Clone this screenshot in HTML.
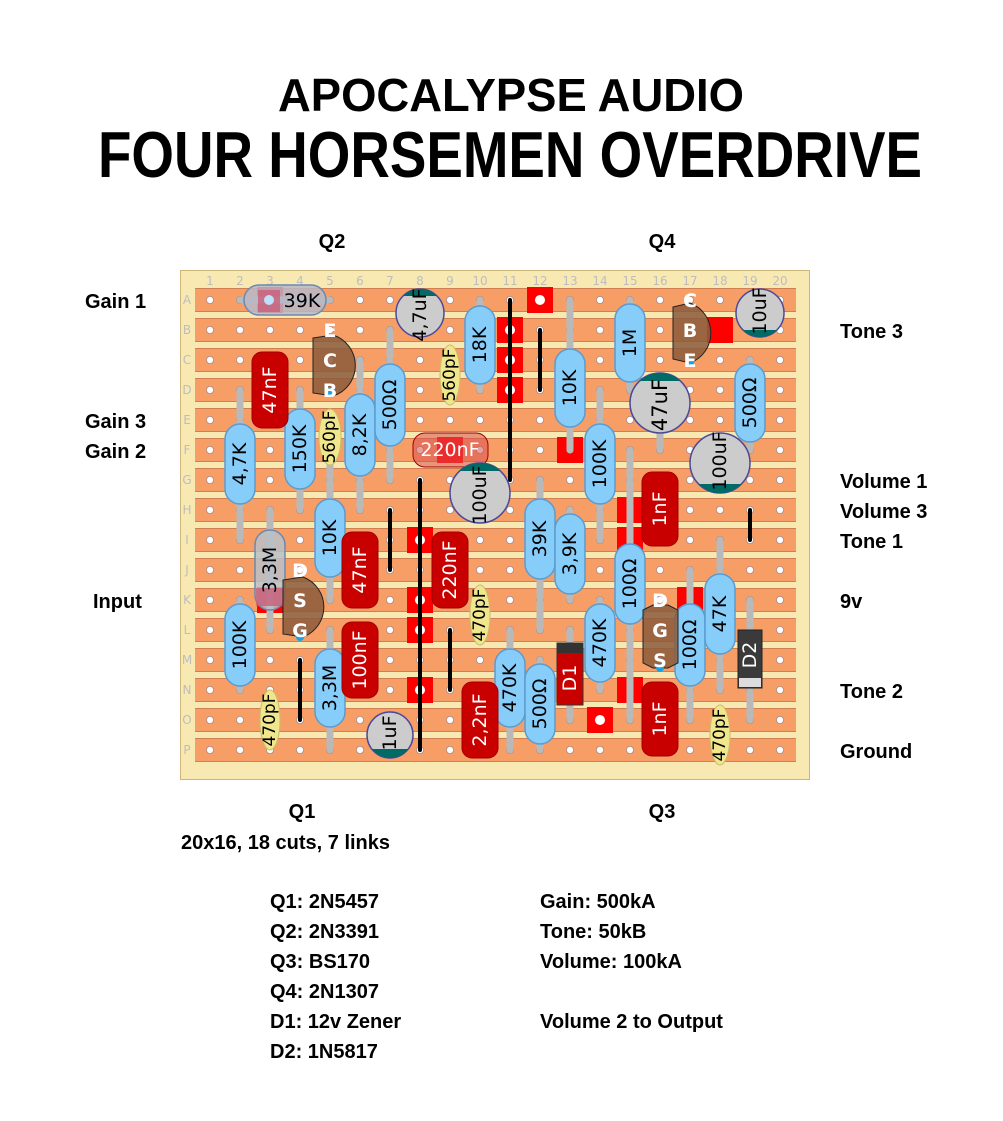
<!DOCTYPE html>
<html><head><meta charset="utf-8"><style>
html,body{margin:0;padding:0;background:#fff}
svg{display:block}
.lb{font-family:"Liberation Sans",sans-serif;font-weight:bold;font-size:20px;fill:#000}
.cl{font-family:"DejaVu Sans","Liberation Sans",sans-serif;font-size:19px;fill:#000;text-anchor:middle;dominant-baseline:central}
.cw{font-family:"DejaVu Sans","Liberation Sans",sans-serif;font-size:19px;fill:#fff;text-anchor:middle;dominant-baseline:central}
.tl{font-family:"DejaVu Sans",sans-serif;font-weight:bold;font-size:19px;fill:#fff;text-anchor:middle;dominant-baseline:central}
.gr{font-family:"DejaVu Sans",sans-serif;font-size:12px;fill:#bdbdbd;text-anchor:middle;dominant-baseline:central}
.ld{stroke:#b9b9b9;stroke-width:7;stroke-linecap:round}
.lk{stroke:#000;stroke-width:4;stroke-linecap:round}
.r{fill:#87cdf9;stroke:#5b9bd0;stroke-width:1.5}
.c{fill:#c80000;stroke:#a00000;stroke-width:1}
.y{fill:#f0e68c;stroke:#c8bd6e;stroke-width:1}
.e{fill:#cccccc;stroke:#4a4a9a;stroke-width:1.5}
.cut{fill:#ff0000}
</style></head><body>
<svg width="1003" height="1121" viewBox="0 0 1003 1121" xmlns="http://www.w3.org/2000/svg">
<defs>
<pattern id="strip" patternUnits="userSpaceOnUse" x="0" y="285" width="1003" height="30">
<rect x="0" y="3.5" width="1003" height="23" fill="#f79e66" stroke="#cf7f52" stroke-width="1"/>
</pattern>
<pattern id="holes" patternUnits="userSpaceOnUse" x="195" y="285" width="30" height="30">
<circle cx="15" cy="15" r="3.6" fill="#fff" stroke="#a88" stroke-width="0.8"/>
</pattern>
<clipPath id="c1"><circle cx="420" cy="313" r="24"/></clipPath>
<clipPath id="c2"><circle cx="480" cy="493" r="30"/></clipPath>
<clipPath id="c3"><circle cx="660" cy="403" r="30"/></clipPath>
<clipPath id="c4"><circle cx="760" cy="313" r="24"/></clipPath>
<clipPath id="c5"><circle cx="720" cy="463" r="30"/></clipPath>
<clipPath id="c6"><circle cx="390" cy="735" r="23"/></clipPath>
</defs>

<!-- titles -->
<text x="511" y="111" text-anchor="middle" font-family="Liberation Sans,sans-serif" font-weight="bold" font-size="46" textLength="466" lengthAdjust="spacingAndGlyphs">APOCALYPSE AUDIO</text>
<text x="510" y="177" text-anchor="middle" font-family="Liberation Sans,sans-serif" font-weight="bold" font-size="65" textLength="824" lengthAdjust="spacingAndGlyphs">FOUR HORSEMEN OVERDRIVE</text>

<text class="lb" x="332" y="248" text-anchor="middle">Q2</text>
<text class="lb" x="662" y="248" text-anchor="middle">Q4</text>
<text class="lb" x="302" y="818" text-anchor="middle">Q1</text>
<text class="lb" x="662" y="818" text-anchor="middle">Q3</text>

<text class="lb" x="85" y="308">Gain 1</text>
<text class="lb" x="85" y="428">Gain 3</text>
<text class="lb" x="85" y="458">Gain 2</text>
<text class="lb" x="93" y="608">Input</text>
<text class="lb" x="840" y="338">Tone 3</text>
<text class="lb" x="840" y="488">Volume 1</text>
<text class="lb" x="840" y="518">Volume 3</text>
<text class="lb" x="840" y="548">Tone 1</text>
<text class="lb" x="840" y="608">9v</text>
<text class="lb" x="840" y="698">Tone 2</text>
<text class="lb" x="840" y="758">Ground</text>

<text class="lb" x="181" y="849">20x16, 18 cuts, 7 links</text>
<text class="lb" x="270" y="908">Q1: 2N5457</text>
<text class="lb" x="270" y="938">Q2: 2N3391</text>
<text class="lb" x="270" y="968">Q3: BS170</text>
<text class="lb" x="270" y="998">Q4: 2N1307</text>
<text class="lb" x="270" y="1028">D1: 12v Zener</text>
<text class="lb" x="270" y="1058">D2: 1N5817</text>
<text class="lb" x="540" y="908">Gain: 500kA</text>
<text class="lb" x="540" y="938">Tone: 50kB</text>
<text class="lb" x="540" y="968">Volume: 100kA</text>
<text class="lb" x="540" y="1028">Volume 2 to Output</text>

<!-- board -->
<rect x="180.5" y="270.5" width="629" height="509" fill="#f8e9b3" stroke="#cdb77a" stroke-width="1"/>
<rect x="195" y="285" width="601" height="480" fill="url(#strip)"/>
<rect x="195" y="285" width="601" height="480" fill="url(#holes)"/>

<g class="gr">
<text x="210" y="281">1</text><text x="240" y="281">2</text><text x="270" y="281">3</text><text x="300" y="281">4</text><text x="330" y="281">5</text><text x="360" y="281">6</text><text x="390" y="281">7</text><text x="420" y="281">8</text><text x="450" y="281">9</text><text x="480" y="281">10</text><text x="510" y="281">11</text><text x="540" y="281">12</text><text x="570" y="281">13</text><text x="600" y="281">14</text><text x="630" y="281">15</text><text x="660" y="281">16</text><text x="690" y="281">17</text><text x="720" y="281">18</text><text x="750" y="281">19</text><text x="780" y="281">20</text>
<text x="187" y="300">A</text><text x="187" y="330">B</text><text x="187" y="360">C</text><text x="187" y="390">D</text><text x="187" y="420">E</text><text x="187" y="450">F</text><text x="187" y="480">G</text><text x="187" y="510">H</text><text x="187" y="540">I</text><text x="187" y="570">J</text><text x="187" y="600">K</text><text x="187" y="630">L</text><text x="187" y="660">M</text><text x="187" y="690">N</text><text x="187" y="720">O</text><text x="187" y="750">P</text>
</g>

<!-- cuts -->
<g class="cut">
<rect x="527" y="287" width="26" height="26"/>
<rect x="497" y="317" width="26" height="26"/><rect x="497" y="347" width="26" height="26"/><rect x="497" y="377" width="26" height="26"/>
<rect x="707" y="317" width="26" height="26"/>
<rect x="557" y="437" width="26" height="26"/>
<rect x="437" y="437" width="26" height="26"/>
<rect x="617" y="497" width="26" height="26"/><rect x="617" y="527" width="26" height="26"/>
<rect x="617" y="677" width="26" height="26"/>
<rect x="677" y="587" width="26" height="26"/>
<rect x="407" y="527" width="26" height="26"/><rect x="407" y="587" width="26" height="26"/><rect x="407" y="617" width="26" height="26"/><rect x="407" y="677" width="26" height="26"/>
<rect x="257" y="587" width="26" height="26"/>
<rect x="257" y="287" width="26" height="26"/>
<rect x="587" y="707" width="26" height="26"/>
</g>
<g fill="#fff">
<circle cx="540" cy="300" r="5"/><circle cx="510" cy="330" r="5"/><circle cx="510" cy="360" r="5"/><circle cx="510" cy="390" r="5"/>
<circle cx="420" cy="540" r="5"/><circle cx="420" cy="600" r="5"/><circle cx="420" cy="630" r="5"/><circle cx="420" cy="690" r="5"/>
<circle cx="600" cy="720" r="5"/>
</g>

<!-- links -->
<g class="lk">
<line x1="510" y1="300" x2="510" y2="480"/>
<line x1="540" y1="330" x2="540" y2="390"/>
<line x1="420" y1="480" x2="420" y2="750"/>
<line x1="390" y1="510" x2="390" y2="570"/>
<line x1="300" y1="660" x2="300" y2="720"/>
<line x1="450" y1="630" x2="450" y2="690"/>
<line x1="750" y1="510" x2="750" y2="540"/>
</g>

<!-- leads -->
<g class="ld">
<line x1="240" y1="300" x2="330" y2="300"/>
<line x1="480" y1="300" x2="480" y2="390"/>
<line x1="240" y1="390" x2="240" y2="540"/>
<line x1="300" y1="390" x2="300" y2="510"/>
<line x1="360" y1="360" x2="360" y2="510"/>
<line x1="390" y1="330" x2="390" y2="480"/>
<line x1="330" y1="420" x2="330" y2="480"/>
<line x1="570" y1="300" x2="570" y2="450"/>
<line x1="630" y1="300" x2="630" y2="390"/>
<line x1="600" y1="390" x2="600" y2="540"/>
<line x1="750" y1="360" x2="750" y2="450"/>
<line x1="660" y1="390" x2="660" y2="450"/>
<line x1="330" y1="480" x2="330" y2="600"/>
<line x1="270" y1="510" x2="270" y2="630"/>
<line x1="240" y1="600" x2="240" y2="690"/>
<line x1="330" y1="630" x2="330" y2="750"/>
<line x1="540" y1="480" x2="540" y2="630"/>
<line x1="570" y1="510" x2="570" y2="600"/>
<line x1="510" y1="630" x2="510" y2="750"/>
<line x1="540" y1="660" x2="540" y2="750"/>
<line x1="570" y1="630" x2="570" y2="720"/>
<line x1="600" y1="600" x2="600" y2="690"/>
<line x1="630" y1="450" x2="630" y2="720"/>
<line x1="690" y1="570" x2="690" y2="720"/>
<line x1="720" y1="540" x2="720" y2="690"/>
<line x1="750" y1="600" x2="750" y2="720"/>
</g>

<!-- resistors: vertical helper shapes -->
<g class="r">
<!-- 18K col10 -->
<rect x="465" y="306" width="30" height="78" rx="15"/>
<!-- 4,7K col2 -->
<rect x="225" y="424" width="30" height="80" rx="15"/>
<!-- 150K col4 -->
<rect x="285" y="409" width="30" height="80" rx="15"/>
<!-- 8,2K col6 -->
<rect x="345" y="394" width="30" height="82" rx="15"/>
<!-- 500 col7 -->
<rect x="375" y="364" width="30" height="82" rx="15"/>
<!-- 10K col13 -->
<rect x="555" y="349" width="30" height="78" rx="15"/>
<!-- 1M col15 -->
<rect x="615" y="304" width="30" height="78" rx="15"/>
<!-- 100K col14 -->
<rect x="585" y="424" width="30" height="80" rx="15"/>
<!-- 500 col19 -->
<rect x="735" y="364" width="30" height="78" rx="15"/>
<!-- 10K col5 -->
<rect x="315" y="499" width="30" height="78" rx="15"/>
<!-- 100K col2 -->
<rect x="225" y="604" width="30" height="82" rx="15"/>
<!-- 3,3M col5 -->
<rect x="315" y="649" width="30" height="78" rx="15"/>
<!-- 39K col12 -->
<rect x="525" y="499" width="30" height="80" rx="15"/>
<!-- 3,9K col13 -->
<rect x="555" y="514" width="30" height="80" rx="15"/>
<!-- 470K col11 -->
<rect x="495" y="649" width="30" height="78" rx="15"/>
<!-- 500 col12 -->
<rect x="525" y="664" width="30" height="80" rx="15"/>
<!-- 470K col14 -->
<rect x="585" y="604" width="30" height="78" rx="15"/>
<!-- 100 col15 -->
<rect x="615" y="544" width="30" height="80" rx="15"/>
<!-- 100 col17 -->
<rect x="675" y="604" width="30" height="82" rx="15"/>
<!-- 47K col18 -->
<rect x="705" y="574" width="30" height="80" rx="15"/>
</g>
<g class="cl">
<text transform="translate(480 345) rotate(-90)">18K</text>
<text transform="translate(240 464) rotate(-90)">4,7K</text>
<text transform="translate(300 449) rotate(-90)">150K</text>
<text transform="translate(360 435) rotate(-90)">8,2K</text>
<text transform="translate(390 405) rotate(-90)">500Ω</text>
<text transform="translate(570 388) rotate(-90)">10K</text>
<text transform="translate(630 343) rotate(-90)">1M</text>
<text transform="translate(600 464) rotate(-90)">100K</text>
<text transform="translate(750 403) rotate(-90)">500Ω</text>
<text transform="translate(330 538) rotate(-90)">10K</text>
<text transform="translate(240 645) rotate(-90)">100K</text>
<text transform="translate(330 688) rotate(-90)">3,3M</text>
<text transform="translate(540 539) rotate(-90)">39K</text>
<text transform="translate(570 554) rotate(-90)">3,9K</text>
<text transform="translate(510 688) rotate(-90)">470K</text>
<text transform="translate(540 704) rotate(-90)">500Ω</text>
<text transform="translate(600 643) rotate(-90)">470K</text>
<text transform="translate(630 584) rotate(-90)">100Ω</text>
<text transform="translate(690 645) rotate(-90)">100Ω</text>
<text transform="translate(720 614) rotate(-90)">47K</text>
</g>

<!-- translucent resistors -->
<rect x="244" y="285" width="82" height="30" rx="15" fill="#b8b8c8" fill-opacity="0.85" stroke="#6a8ab0" stroke-width="1.5"/>
<rect x="258" y="290" width="22" height="22" fill="#c8607a" opacity="0.8"/>
<circle cx="269" cy="300" r="5" fill="#bde0fb"/>
<text class="cl" x="302" y="301">39K</text>
<rect x="255" y="530" width="30" height="80" rx="15" fill="#b8c0c8" fill-opacity="0.85" stroke="#6a8ab0" stroke-width="1.5"/>
<rect x="256" y="588" width="28" height="18" fill="#c8607a" opacity="0.8"/>
<text class="cl" transform="translate(270 570) rotate(-90)">3,3M</text>

<!-- yellow caps -->
<g class="y">
<ellipse cx="330" cy="437" rx="11" ry="28"/>
<ellipse cx="450" cy="375" rx="10" ry="30"/>
<ellipse cx="270" cy="720" rx="10" ry="30"/>
<ellipse cx="480" cy="615" rx="10" ry="30"/>
<ellipse cx="720" cy="735" rx="10" ry="30"/>
</g>
<g class="cl" style="font-size:17px">
<text transform="translate(330 437) rotate(-90)">560pF</text>
<text transform="translate(450 375) rotate(-90)">560pF</text>
<text transform="translate(270 720) rotate(-90)">470pF</text>
<text transform="translate(480 615) rotate(-90)">470pF</text>
<text transform="translate(720 735) rotate(-90)">470pF</text>
</g>

<!-- red box caps -->
<g class="c">
<rect x="252" y="352" width="36" height="76" rx="10"/>
<rect x="342" y="532" width="36" height="76" rx="10"/>
<rect x="432" y="532" width="36" height="76" rx="10"/>
<rect x="342" y="622" width="36" height="76" rx="10"/>
<rect x="462" y="682" width="36" height="76" rx="10"/>
<rect x="642" y="472" width="36" height="74" rx="10"/>
<rect x="642" y="682" width="36" height="74" rx="10"/>
</g>
<g class="cw">
<text transform="translate(270 390) rotate(-90)">47nF</text>
<text transform="translate(360 570) rotate(-90)">47nF</text>
<text transform="translate(450 570) rotate(-90)">220nF</text>
<text transform="translate(360 660) rotate(-90)">100nF</text>
<text transform="translate(480 720) rotate(-90)">2,2nF</text>
<text transform="translate(660 509) rotate(-90)">1nF</text>
<text transform="translate(660 719) rotate(-90)">1nF</text>
</g>
<!-- 220nF translucent -->
<rect x="413" y="433" width="75" height="34" rx="12" fill="#d85050" fill-opacity="0.55" stroke="#a00000" stroke-width="1"/>
<text class="cw" x="450" y="450">220nF</text>

<!-- electrolytics -->
<circle class="e" cx="420" cy="313" r="24"/><rect x="396" y="289" width="48" height="7" fill="#006a66" clip-path="url(#c1)"/>
<text class="cl" transform="translate(420 315) rotate(-90)">4,7uF</text>
<circle class="e" cx="480" cy="493" r="30"/><rect x="450" y="463" width="60" height="8" fill="#006a66" clip-path="url(#c2)"/>
<text class="cl" transform="translate(480 495) rotate(-90)">100uF</text>
<circle class="e" cx="660" cy="403" r="30"/><rect x="630" y="373" width="60" height="8" fill="#006a66" clip-path="url(#c3)"/>
<text class="cl" transform="translate(660 405) rotate(-90)" style="font-size:21px">47uF</text>
<circle class="e" cx="760" cy="313" r="24"/><rect x="736" y="330" width="48" height="8" fill="#006a66" clip-path="url(#c4)"/>
<text class="cl" transform="translate(760 311) rotate(-90)">10uF</text>
<circle class="e" cx="720" cy="463" r="30"/><rect x="690" y="484" width="60" height="10" fill="#006a66" clip-path="url(#c5)"/>
<text class="cl" transform="translate(720 461) rotate(-90)">100uF</text>
<circle class="e" cx="390" cy="735" r="23"/><rect x="367" y="749" width="46" height="10" fill="#006a66" clip-path="url(#c6)"/>
<text class="cl" transform="translate(390 733) rotate(-90)">1uF</text>

<!-- diodes -->
<rect x="557" y="643" width="26" height="62" fill="#c80000" stroke="#333" stroke-width="1"/>
<rect x="557" y="643" width="26" height="10" fill="#333"/>
<text class="cw" transform="translate(570 678) rotate(-90)">D1</text>
<rect x="738" y="630" width="24" height="58" fill="#3a3a3a" stroke="#222" stroke-width="1"/>
<rect x="739" y="678" width="22" height="9" fill="#ddd"/>
<text class="cw" transform="translate(750 655) rotate(-90)">D2</text>

<!-- transistors -->
<path d="M313 338 L333 335 A32 32 0 0 1 333 396 L313 393 Z" fill="#8b5a3c" fill-opacity="0.85" stroke="#222" stroke-width="1"/>
<path d="M673 307 L690 303 A32 32 0 0 1 690 363 L673 359 Z" fill="#8b5a3c" fill-opacity="0.85" stroke="#222" stroke-width="1"/>
<path d="M283 580 L303 577 A32 32 0 0 1 303 637 L283 634 Z" fill="#8b5a3c" fill-opacity="0.85" stroke="#222" stroke-width="1"/>
<path d="M643 610 L653 605 L668 605 L678 610 L678 663 L668 668 L653 668 L643 663 Z" fill="#8b5a3c" fill-opacity="0.85" stroke="#222" stroke-width="1"/>
<g fill="#1ea0e0">
<circle cx="330" cy="392" r="4"/><circle cx="690" cy="362" r="4"/><circle cx="300" cy="637" r="4"/><circle cx="660" cy="668" r="4"/>
</g>
<g class="tl">
<text x="330" y="331">E</text><text x="330" y="361">C</text><text x="330" y="391">B</text>
<text x="690" y="301">C</text><text x="690" y="331">B</text><text x="690" y="361">E</text>
<text x="300" y="571">D</text><text x="300" y="601">S</text><text x="300" y="631">G</text>
<text x="660" y="601">D</text><text x="660" y="631">G</text><text x="660" y="661">S</text>
</g>
</svg>
</body></html>
